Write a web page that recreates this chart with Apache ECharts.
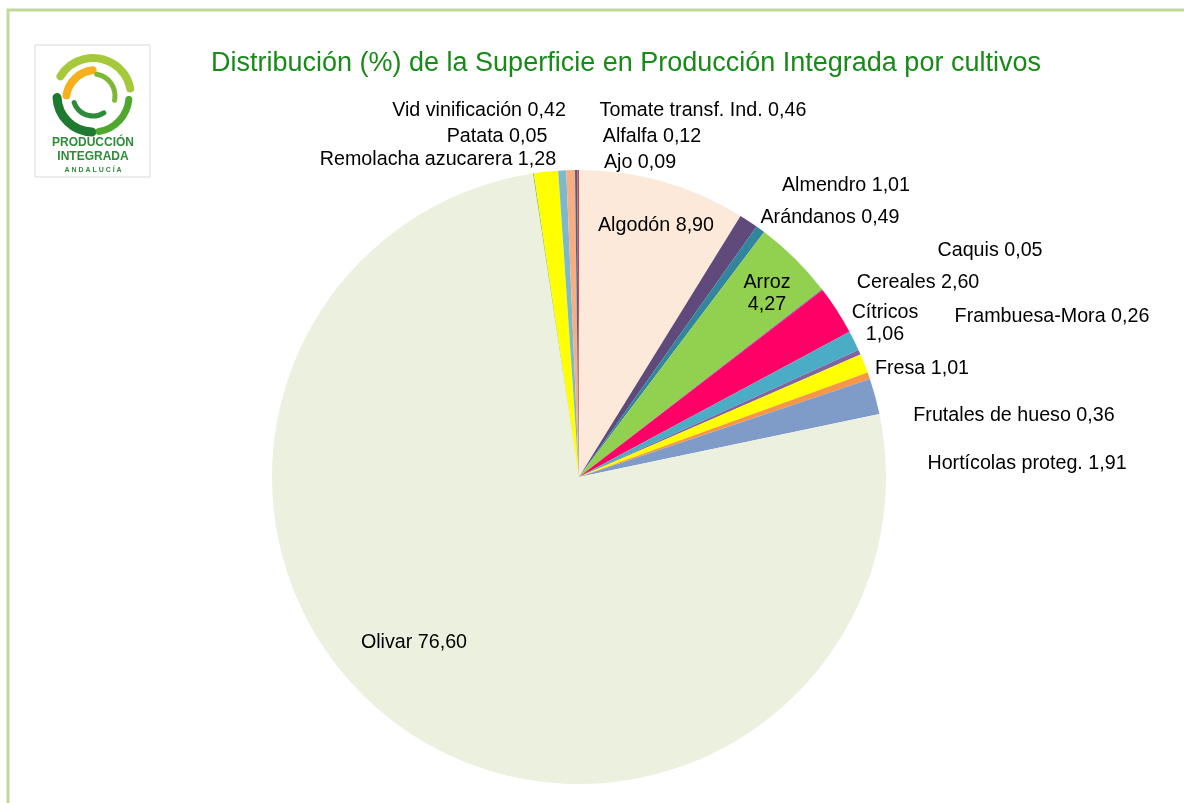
<!DOCTYPE html>
<html>
<head>
<meta charset="utf-8">
<script src="https://cdn.jsdelivr.net/npm/echarts@6/dist/echarts.min.js"></script>
<style>
  html, body { margin: 0; padding: 0; background: #fff; }
  #chart { width: 1184px; height: 803px; }
</style>
</head>
<body>
<div id="chart"></div>
<script>
// cultivos, en el orden en que aparecen (sentido horario desde las 12)
var cultivos = [
  "Algodón", "Almendro", "Arándanos", "Arroz", "Caquis", "Cereales",
  "Cítricos", "Frambuesa-Mora", "Fresa", "Frutales de hueso",
  "Hortícolas proteg.", "Olivar", "Patata", "Remolacha azucarera",
  "Vid vinificación", "Tomate transf. Ind.", "Alfalfa", "Ajo"
];
var superficie = [
  8.90, 1.01, 0.49, 4.27, 0.05, 2.60,
  1.06, 0.26, 1.01, 0.36,
  1.91, 76.60, 0.05, 1.28,
  0.42, 0.46, 0.12, 0.09
];
var colores = [
  "#FDE9D9", "#604A7B", "#31859C", "#92D050", "#8064A2", "#FF0066",
  "#4BACC6", "#8064A2", "#FFFF00", "#F79646",
  "#7F9CC9", "#EBF1DE", "#9BBB59", "#FFFF00",
  "#7CB9CF", "#F9AE82", "#4A5F8C", "#C0504D"
];
// etiquetas que van en dos lineas
var dosLineas = ["Arroz", "Cítricos"];
// donde van las etiquetas (centro del texto), como en el original
var posEtiquetas = [
  [656, 226], [846, 186], [830, 218], [767, 294], [990, 251], [918, 283],
  [885, 324], [1052, 317], [922, 369], [1014, 416],
  [1027, 464], [414, 643], [497, 137], [438, 160],
  [479, 111], [703, 111], [652, 137], [640, 163]
];

var myChart = echarts.init(document.getElementById("chart"));

function fmt(v) {
  return v.toFixed(2).replace(".", ",");
}

var datos = cultivos.map(function(c, i) {
  return { name: c, value: superficie[i], itemStyle: { color: colores[i] } };
});

var option = {
  animation: false,
  backgroundColor: "#fff",
  title: {
    text: "Distribución (%) de la Superficie en Producción Integrada por cultivos",
    left: 206,
    top: 45,
    textStyle: {
      fontFamily: "Liberation Sans",
      fontWeight: "normal",
      fontSize: 27,
      color: "#178A17"
    }
  },
  graphic: [
    // marco
    {
      type: "polyline",
      shape: { points: [[8, 803], [8, 10], [1184, 10]] },
      style: { stroke: "#C4D79B", lineWidth: 3, fill: null }
    },
    // logo
    {
      type: "rect",
      shape: { x: 35, y: 45, width: 115, height: 132 },
      style: { fill: "#fff", stroke: "#D9D9D9", lineWidth: 1 }
    },
    {
      type: "arc",
      shape: { cx: 93, cy: 96, r: 38, startAngle: -2.6, endAngle: -0.2 },
      style: { stroke: "#A5C93A", lineWidth: 8, fill: null, lineCap: "round" }
    },
    {
      type: "arc",
      shape: { cx: 96, cy: 100, r: 30, startAngle: 3.3, endAngle: 4.6 },
      style: { stroke: "#F6B01E", lineWidth: 8, fill: null, lineCap: "round" }
    },
    {
      type: "arc",
      shape: { cx: 93, cy: 96, r: 36, startAngle: 1.6, endAngle: 3.1 },
      style: { stroke: "#1E7A2E", lineWidth: 9, fill: null, lineCap: "round" }
    },
    {
      type: "arc",
      shape: { cx: 93, cy: 96, r: 36, startAngle: 0.1, endAngle: 1.4 },
      style: { stroke: "#4FA82E", lineWidth: 7, fill: null, lineCap: "round" }
    },
    {
      type: "arc",
      shape: { cx: 93, cy: 96, r: 20, startAngle: 1.0, endAngle: 2.8 },
      style: { stroke: "#2E8B3A", lineWidth: 5, fill: null, lineCap: "round" }
    },
    {
      type: "arc",
      shape: { cx: 93, cy: 96, r: 22, startAngle: -1.4, endAngle: 0.2 },
      style: { stroke: "#7DB833", lineWidth: 5, fill: null, lineCap: "round" }
    },
    {
      type: "text",
      style: {
        text: "PRODUCCIÓN", x: 93, y: 143, align: "center", verticalAlign: "middle",
        font: "bold 12px 'Liberation Sans'", fill: "#2E8B3A"
      }
    },
    {
      type: "text",
      style: {
        text: "INTEGRADA", x: 93, y: 157, align: "center", verticalAlign: "middle",
        font: "bold 12px 'Liberation Sans'", fill: "#2E8B3A"
      }
    },
    {
      type: "text",
      style: {
        text: "A N D A L U C Í A", x: 93, y: 170, align: "center", verticalAlign: "middle",
        font: "bold 7px 'Liberation Sans'", fill: "#2E8B3A"
      }
    }
  ],
  series: [
    {
      type: "pie",
      center: [579, 477],
      radius: 307,
      startAngle: 90,
      clockwise: true,
      avoidLabelOverlap: false,
      label: {
        show: true,
        position: "outside",
        fontFamily: "Liberation Sans",
        fontSize: 19.7,
        color: "#000",
        lineHeight: 22,
        formatter: function(p) {
          var sep = dosLineas.indexOf(p.name) >= 0 ? "\n" : " ";
          return p.name + sep + fmt(p.value);
        }
      },
      labelLine: { show: false },
      labelLayout: function(params) {
        var p = posEtiquetas[params.dataIndex];
        return { x: p[0], y: p[1], align: "center", verticalAlign: "middle" };
      },
      emphasis: { disabled: true },
      data: datos
    }
  ]
};

myChart.setOption(option);
</script>
</body>
</html>
